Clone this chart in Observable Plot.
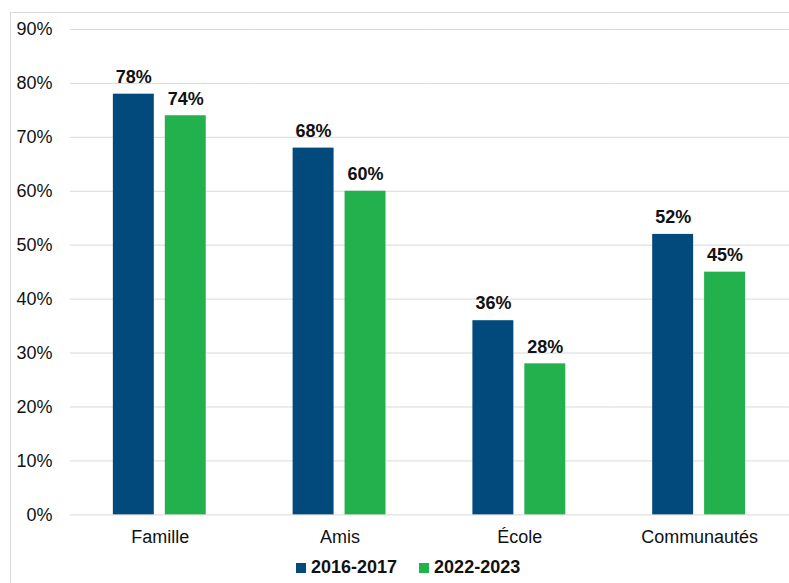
<!DOCTYPE html>
<html><head><meta charset="utf-8">
<script src="https://cdn.jsdelivr.net/npm/d3@7"></script>
<script src="https://cdn.jsdelivr.net/npm/@observablehq/plot@0.6"></script>
<style>
body{margin:0;background:#fff;font-family:"Liberation Sans",Arial,sans-serif;}
#wrap{position:relative;width:789px;height:583px;overflow:hidden;}
#frame{position:absolute;left:10px;top:12px;width:800px;height:600px;border-left:1px solid #d9d9d9;border-top:1px solid #d9d9d9;pointer-events:none;}
#legend{position:absolute;left:296px;top:557px;display:flex;align-items:center;font-weight:bold;font-size:18px;color:#111;}
#legend .sw{width:10px;height:10px;display:inline-block;margin-right:5px;}
#legend .item{display:flex;align-items:center;margin-right:22px;}
</style></head>
<body><div id="wrap"><div id="chart"></div><div id="legend"></div><div id="frame"></div></div>
<script>
const categories = ["Famille", "Amis", "École", "Communautés"];
const series = ["2016-2017", "2022-2023"];
const values2016 = [78, 68, 36, 52];
const values2022 = [74, 60, 28, 45];
const colors = ["#024A7B", "#23B14D"];
const yTicks = [0,10,20,30,40,50,60,70,80,90];

const data = [];
categories.forEach((c,i)=>{
  data.push({cat:c, s:series[0], v:values2016[i]});
  data.push({cat:c, s:series[1], v:values2022[i]});
});

const chart = Plot.plot({
  width: 790, height: 550,
  marginLeft: 70, marginRight: 0, marginTop: 29, marginBottom: 35,
  style: {fontFamily: '"Liberation Sans", Arial, sans-serif', fontSize: "18px", color: "#111"},
  fx: {domain: categories, padding: 0, label: null, tickSize: 0, tickPadding: 15, axis: "bottom"},
  x: {domain: series, paddingInner: 0.2115, paddingOuter: 0.8365, axis: null},
  y: {domain: [0, 90], ticks: yTicks, tickFormat: d => d + "%", label: null, tickSize: 0, tickPadding: 18},
  color: {domain: series, range: colors},
  marks: [
    Plot.ruleY(yTicks, {stroke: "#d9d9d9", strokeWidth: 1, facetAnchor: null, clip: false}),
    Plot.barY(data, {fx: "cat", x: "s", y: "v", fill: "s"}),
    Plot.text(data, {fx: "cat", x: "s", y: "v", text: d => d.v + "%", dy: -17, fontWeight: "bold", fontSize: 18, fill: "#111"})
  ]
});
document.getElementById("chart").appendChild(chart);

const lg = document.getElementById("legend");
series.forEach((s,i)=>{
  const it = document.createElement("div"); it.className="item";
  const sw = document.createElement("span"); sw.className="sw"; sw.style.background=colors[i];
  const tx = document.createElement("span"); tx.textContent = s;
  it.appendChild(sw); it.appendChild(tx); lg.appendChild(it);
});
</script></body></html>
